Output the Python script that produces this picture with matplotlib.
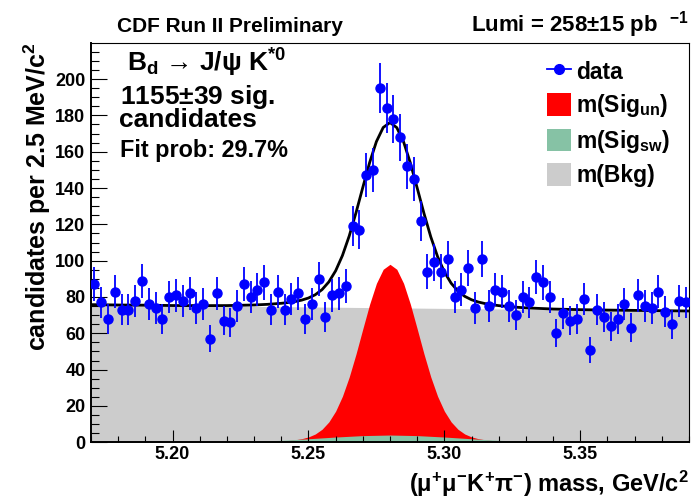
import numpy as np
import matplotlib
matplotlib.use('Agg')
import matplotlib.pyplot as plt
from matplotlib.lines import Line2D
from matplotlib.patches import Patch
from matplotlib.ticker import MultipleLocator, FormatStrFormatter

plt.rcParams['font.family'] = ['Liberation Sans', 'DejaVu Sans']
plt.rcParams['font.weight'] = 'bold'
plt.rcParams['axes.labelweight'] = 'bold'
plt.rcParams['mathtext.fontset'] = 'custom'
plt.rcParams['mathtext.rm'] = 'Liberation Sans:bold'
plt.rcParams['mathtext.it'] = 'Liberation Sans:bold'
plt.rcParams['mathtext.bf'] = 'Liberation Sans:bold'
plt.rcParams['mathtext.default'] = 'rm'

# %%
# candidates per 2.5 MeV bin, 5.170 - 5.390 GeV/c^2
bin_edges = np.linspace(5.17, 5.39, 89)
counts = [87, 77, 68, 83, 73, 73, 78, 89, 76, 74,
          68, 80, 81, 78, 82, 74, 76, 57, 82, 67,
          66, 75, 87, 80, 84, 88, 73, 83, 73, 79,
          82, 68, 76, 90, 69, 81, 82, 86, 119, 117,
          147, 150, 195, 184, 178, 168, 152, 145, 122, 94,
          99, 94, 101, 80, 84, 96, 74, 101, 75, 84,
          83, 75, 70, 80, 77, 91, 88, 80, 60, 71,
          67, 68, 79, 51, 73, 69, 64, 68, 76, 63,
          81, 75, 74, 83, 72, 65, 78, 77]

# fit components
bkg_x = [5.17, 5.39]
bkg_y = [75.8, 72.3]

sig_un_x = np.linspace(5.23, 5.33, 41)
sig_un_y = [0.22, 0.30, 0.40, 0.54, 0.73, 0.98, 1.37, 1.98, 2.96, 4.57,
            7.18, 11.22, 17.15, 25.37, 35.98, 48.65, 62.46, 76.00, 87.52, 95.26,
            98.00,
            95.26, 87.52, 76.00, 62.46, 48.65, 35.98, 25.37, 17.15, 11.22, 7.18,
            4.57, 2.96, 1.98, 1.37, 0.98, 0.73, 0.54, 0.40, 0.30, 0.22]

sig_sw_x = np.linspace(5.19, 5.37, 19)
sig_sw_y = [0.01, 0.02, 0.08, 0.22, 0.54, 1.11, 1.95, 2.90, 3.69, 4.00,
            3.69, 2.90, 1.95, 1.11, 0.54, 0.22, 0.08, 0.02, 0.01]

fit_x = [5.17, 5.18, 5.19, 5.20, 5.21, 5.22, 5.23, 5.235, 5.24,
         5.2425, 5.245, 5.2475, 5.25, 5.2525, 5.255, 5.2575, 5.26,
         5.2625, 5.265, 5.2675, 5.27, 5.2725, 5.275, 5.2775, 5.28,
         5.2825, 5.285, 5.2875, 5.29, 5.2925, 5.295, 5.2975, 5.30,
         5.3025, 5.305, 5.3075, 5.31, 5.3125, 5.315, 5.3175, 5.32,
         5.325, 5.33, 5.34, 5.35, 5.36, 5.37, 5.38, 5.39]
fit_y = [75.8, 75.6, 75.5, 75.3, 75.25, 75.28, 75.61, 75.96, 76.53,
         76.93, 77.48, 78.27, 79.44, 81.24, 84.06, 88.30, 94.42,
         102.83, 113.61, 126.43, 140.36, 153.99, 165.57, 173.33, 176.05,
         173.25, 165.41, 153.75, 140.04, 126.03, 113.13, 102.27, 93.78,
         87.58, 83.26, 80.36, 78.48, 77.23, 76.36, 75.73, 75.25,
         74.52, 74.02, 73.38, 73.03, 72.80, 72.63, 72.46, 72.30]

# %%
centers = 0.5 * (bin_edges[:-1] + bin_edges[1:])
counts = np.array(counts, dtype=float)

fig = plt.figure(figsize=(6.91, 5.0), dpi=100)
ax = fig.add_axes([91/691, 1 - 442.3/500, 598/691, 399.4/500])

ax.fill_between(bkg_x, 0, bkg_y, color='#cccccc', lw=0)
ax.fill_between(sig_un_x, 0, sig_un_y, color='#ff0000', lw=0)
ax.fill_between(sig_sw_x, 0, sig_sw_y, color='#86c2a5', lw=0)
ax.plot(fit_x, fit_y, color='black', lw=2.0, zorder=3)
ax.errorbar(centers, counts, yerr=np.sqrt(counts), fmt='o', color='#0000ff',
            ms=6.5, elinewidth=1.3, capsize=0, zorder=4)

ax.set_xlim(5.17, 5.39)
ax.set_ylim(0, 219.9)
ax.xaxis.set_major_locator(MultipleLocator(0.05))
ax.xaxis.set_minor_locator(MultipleLocator(0.01))
ax.xaxis.set_major_formatter(FormatStrFormatter('%.2f'))
ax.yaxis.set_major_locator(MultipleLocator(20))
ax.yaxis.set_minor_locator(MultipleLocator(5))
ax.tick_params(axis='both', which='both', direction='in', top=False, right=False,
               width=0.8, labelsize=13)
ax.tick_params(axis='y', which='major', length=11.5, pad=4)
ax.tick_params(axis='y', which='minor', length=5.5)
ax.tick_params(axis='x', which='major', length=8.6, pad=3)
ax.tick_params(axis='x', which='minor', length=4.3)
for s in ['left', 'bottom']:
    ax.spines[s].set_linewidth(1.4)
for s in ['top', 'right']:
    ax.spines[s].set_linewidth(0.8)

ax.set_ylabel('candidates per 2.5 MeV/c$^{2}$', loc='top', fontsize=18, fontweight='bold')
ax.yaxis.set_label_coords(-0.0635, 1.0)
ax.set_xlabel('($\\mu^{+}\\mu^{-}$K$^{+}\\pi^{-}$) mass, GeV/c$^{2}$', loc='right',
              fontsize=17, fontweight='bold')
ax.xaxis.set_label_coords(1.0, -0.066)

fig.text(117/691, 1 - 32/500, 'CDF Run II Preliminary', fontsize=15)
fig.text(689/691, 1 - 32/500, 'Lumi = 258$\\pm$15 pb  $^{-1}$', ha='right', fontsize=16)

fig.text(126.7/691, 1 - 71.7/500, 'B$_{d}$ → J/ψ K$^{*0}$', fontsize=19)
fig.text(120/691, 1 - 104/500, '1155$\\pm$39 sig.', fontsize=19)
fig.text(119/691, 1 - 127/500, 'candidates', fontsize=19)
fig.text(120/691, 1 - 156.7/500, 'Fit prob: 29.7%', fontsize=16.8)

handles = [Line2D([], [], color='#0000ff', marker='o', ms=7, lw=1.3),
           Patch(facecolor='#ff0000', edgecolor='none'),
           Patch(facecolor='#86c2a5', edgecolor='none'),
           Patch(facecolor='#cccccc', edgecolor='none')]
labels = ['data', 'm(Sig$_{un}$)', 'm(Sig$_{sw}$)', 'm(Bkg)']
ax.legend(handles, labels, loc='upper left', bbox_to_anchor=(546.7/691, 1 - 60/500),
          bbox_transform=fig.transFigure, frameon=False, fontsize=16.5,
          handlelength=1.05, handleheight=1.12, handletextpad=0.25,
          labelspacing=0.37, borderpad=0, borderaxespad=0)

fig.savefig('out.png', dpi=100)
